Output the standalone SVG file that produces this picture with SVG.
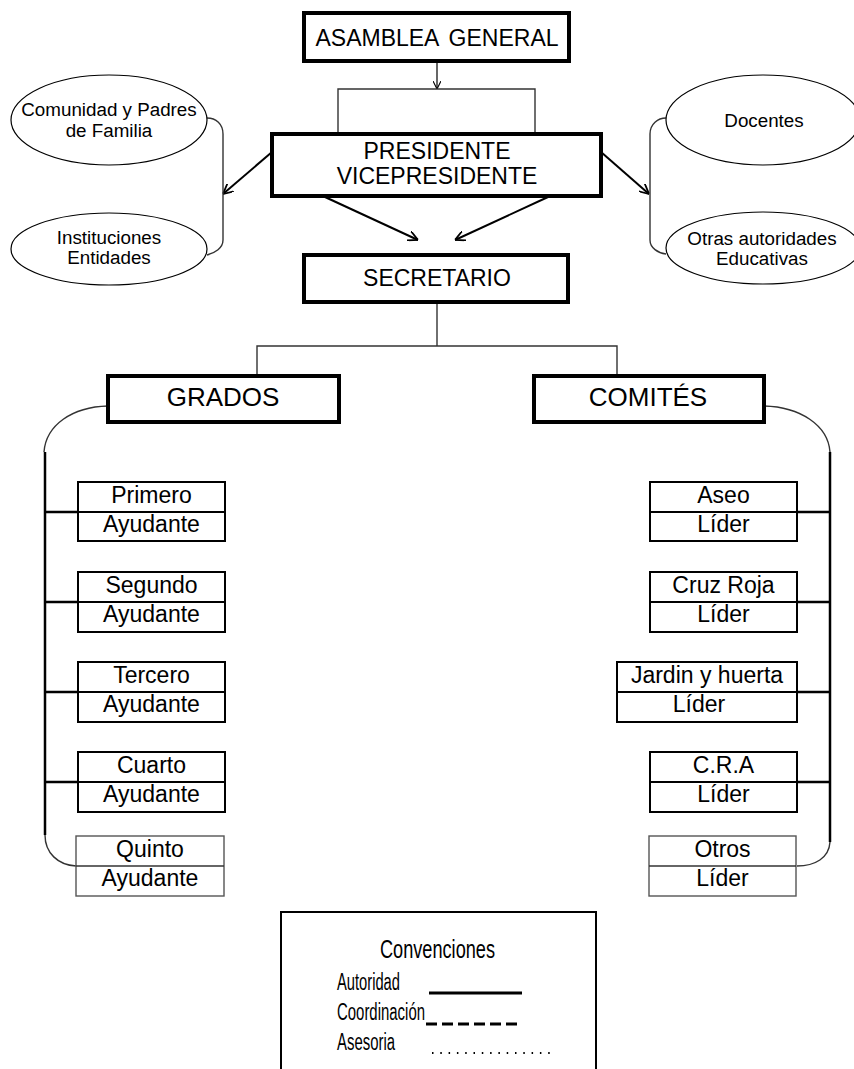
<svg xmlns="http://www.w3.org/2000/svg" width="854" height="1069" viewBox="0 0 854 1069">
<defs>
<style>
text{font-family:"Liberation Sans",Arial,sans-serif;fill:#000;text-anchor:middle}
.big{fill:#fff;stroke:#000;stroke-width:4}
.sub{fill:#fff;stroke:#000;stroke-width:2}
.thin{fill:#fff;stroke:#555;stroke-width:1.4}
.ell{fill:#fff;stroke:#000;stroke-width:1.2}
.t22{font-size:23px}
.t26{font-size:26px}
.t18{font-size:18.8px}
.box{font-size:23px}
.con{fill:none;stroke:#333;stroke-width:1.4}
.arr{fill:none;stroke:#000;stroke-width:2}
.vt{fill:none;stroke:#000;stroke-width:2.5}
.leg{text-anchor:start}
</style>
<marker id="ah" viewBox="0 0 10 10" refX="10" refY="5" markerWidth="10" markerHeight="10" markerUnits="userSpaceOnUse" orient="auto">
<path d="M0,0 L10,5 L0,10" fill="none" stroke="#000" stroke-width="1.8"/>
</marker>
<marker id="ahs" viewBox="0 0 10 10" refX="10" refY="5" markerWidth="8" markerHeight="8" markerUnits="userSpaceOnUse" orient="auto">
<path d="M0,0 L10,5 L0,10" fill="none" stroke="#000" stroke-width="1.4"/>
</marker>
</defs>
<rect width="854" height="1069" fill="#fff"/>

<g id="connectors">
<line x1="437" y1="61" x2="437" y2="89" stroke="#000" stroke-width="1.2" marker-end="url(#ahs)"/>
<path class="con" d="M338,134 V89 H535 V134"/>
<line class="arr" x1="272" y1="152" x2="223" y2="194" marker-end="url(#ah)"/>
<line class="arr" x1="601" y1="152" x2="649" y2="194" marker-end="url(#ah)"/>
<line class="arr" x1="325" y1="197" x2="418" y2="240" marker-end="url(#ah)"/>
<line class="arr" x1="548" y1="197" x2="455" y2="240" marker-end="url(#ah)"/>
<path class="con" d="M207,118 C216,118 223,124 223,134 V240 C223,248 215,253 207,255"/>
<path class="con" d="M666,118 C658,118 650,124 650,134 V240 C650,248 658,253 666,254"/>
<path class="con" d="M437,302 V346"/>
<path class="con" d="M257,376 V346 H617 V376"/>
<path class="con" d="M108,406 C72,407 46,425 44,452"/>
<path class="vt" d="M45,452 V835"/>
<path class="con" d="M45,835 C45,853 58,865 76,866"/>
<path class="vt" d="M45,512 H78 M45,602 H78 M45,692 H78 M45,782 H78"/>
<path class="con" d="M764,406 C800,407 828,425 830,452"/>
<path class="vt" d="M830,452 V842"/>
<path class="con" d="M830,842 C829,858 815,866 797,866"/>
<path class="vt" d="M797,512 H830 M797,602 H830 M797,692 H830 M797,782 H830"/>
</g>

<g id="asamblea">
<rect class="big" x="304" y="13" width="265" height="48"/>
<text class="t22" x="437" y="46" word-spacing="4">ASAMBLEA GENERAL</text>
</g>
<g id="presidente">
<rect class="big" x="272" y="134" width="329" height="62"/>
<text class="t22" x="437" y="159">PRESIDENTE</text>
<text class="t22" x="437" y="184">VICEPRESIDENTE</text>
</g>
<g id="secretario">
<rect class="big" x="304" y="255" width="264" height="47"/>
<text class="t22" x="437" y="286">SECRETARIO</text>
</g>
<g id="comunidad">
<ellipse class="ell" cx="109" cy="120" rx="98" ry="45"/>
<text class="t18" x="109" y="116">Comunidad y Padres</text>
<text class="t18" x="109" y="137">de Familia</text>
</g>
<g id="instituciones">
<ellipse class="ell" cx="109" cy="249" rx="98" ry="36"/>
<text class="t18" x="109" y="244">Instituciones</text>
<text class="t18" x="109" y="264">Entidades</text>
</g>
<g id="docentes">
<ellipse class="ell" cx="763" cy="120" rx="97" ry="45"/>
<text class="t18" x="764" y="127">Docentes</text>
</g>
<g id="otras">
<ellipse class="ell" cx="763" cy="248" rx="97" ry="36"/>
<text class="t18" x="762" y="245">Otras autoridades</text>
<text class="t18" x="762" y="265">Educativas</text>
</g>
<g id="grados">
<rect class="big" x="108" y="376" width="231" height="46"/>
<text class="t26" x="223" y="406">GRADOS</text>
</g>
<g id="comites">
<rect class="big" x="534" y="376" width="230" height="46"/>
<text class="t26" x="648" y="406">COMITÉS</text>
</g>

<g id="primero">
<rect class="sub" x="78" y="482" width="147" height="59"/>
<line x1="78" y1="512" x2="225" y2="512" stroke="#000" stroke-width="2"/>
<text class="box" x="151.5" y="503">Primero</text>
<text class="box" x="151.5" y="532">Ayudante</text>
</g>
<g id="segundo">
<rect class="sub" x="78" y="572" width="147" height="60"/>
<line x1="78" y1="602" x2="225" y2="602" stroke="#000" stroke-width="2"/>
<text class="box" x="151.5" y="593">Segundo</text>
<text class="box" x="151.5" y="622">Ayudante</text>
</g>
<g id="tercero">
<rect class="sub" x="78" y="662" width="147" height="60"/>
<line x1="78" y1="692" x2="225" y2="692" stroke="#000" stroke-width="2"/>
<text class="box" x="151.5" y="683">Tercero</text>
<text class="box" x="151.5" y="712">Ayudante</text>
</g>
<g id="cuarto">
<rect class="sub" x="78" y="752" width="147" height="60"/>
<line x1="78" y1="782" x2="225" y2="782" stroke="#000" stroke-width="2"/>
<text class="box" x="151.5" y="773">Cuarto</text>
<text class="box" x="151.5" y="802">Ayudante</text>
</g>
<g id="quinto">
<rect class="thin" x="76" y="836" width="148" height="60"/>
<line x1="76" y1="866" x2="224" y2="866" stroke="#333" stroke-width="1.4"/>
<text class="box" x="150" y="857">Quinto</text>
<text class="box" x="150" y="886">Ayudante</text>
</g>

<g id="aseo">
<rect class="sub" x="650" y="482" width="147" height="59"/>
<line x1="650" y1="512" x2="797" y2="512" stroke="#000" stroke-width="2"/>
<text class="box" x="723.5" y="503">Aseo</text>
<text class="box" x="723.5" y="532">Líder</text>
</g>
<g id="cruzroja">
<rect class="sub" x="650" y="572" width="147" height="60"/>
<line x1="650" y1="602" x2="797" y2="602" stroke="#000" stroke-width="2"/>
<text class="box" x="723.5" y="593">Cruz Roja</text>
<text class="box" x="723.5" y="622">Líder</text>
</g>
<g id="jardin">
<rect class="sub" x="617" y="662" width="180" height="60"/>
<line x1="617" y1="692" x2="797" y2="692" stroke="#000" stroke-width="2"/>
<text class="box" x="707" y="683">Jardin y huerta</text>
<text class="box" x="699" y="712">Líder</text>
</g>
<g id="cra">
<rect class="sub" x="650" y="752" width="147" height="60"/>
<line x1="650" y1="782" x2="797" y2="782" stroke="#000" stroke-width="2"/>
<text class="box" x="723.5" y="773">C.R.A</text>
<text class="box" x="723.5" y="802">Líder</text>
</g>
<g id="otros">
<rect class="thin" x="649" y="836" width="147" height="60"/>
<line x1="649" y1="866" x2="796" y2="866" stroke="#333" stroke-width="1.4"/>
<text class="box" x="722.5" y="857">Otros</text>
<text class="box" x="722.5" y="886">Líder</text>
</g>

<g id="convenciones">
<rect x="281" y="912" width="315" height="170" fill="#fff" stroke="#000" stroke-width="2"/>
<text class="leg" x="380" y="958" font-size="26" textLength="115" lengthAdjust="spacingAndGlyphs">Convenciones</text>
<text class="leg" x="337" y="990" font-size="23" textLength="63" lengthAdjust="spacingAndGlyphs">Autoridad</text>
<text class="leg" x="337" y="1020" font-size="23" textLength="88" lengthAdjust="spacingAndGlyphs">Coordinación</text>
<text class="leg" x="337" y="1050" font-size="23" textLength="58" lengthAdjust="spacingAndGlyphs">Asesoria</text>
<line x1="429" y1="993" x2="522" y2="993" stroke="#000" stroke-width="3"/>
<line x1="426" y1="1024" x2="521" y2="1024" stroke="#000" stroke-width="3" stroke-dasharray="11 5"/>
<line x1="432" y1="1053" x2="553" y2="1053" stroke="#000" stroke-width="2" stroke-dasharray="1.5 6.8"/>
</g>
</svg>
